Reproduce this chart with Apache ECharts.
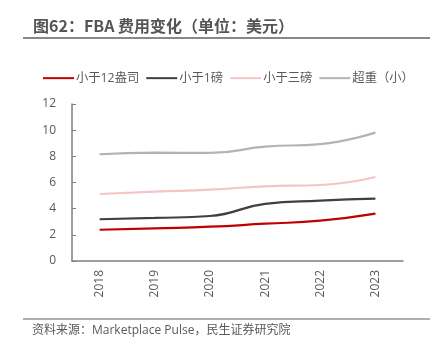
<!DOCTYPE html>
<html>
<head>
<meta charset="utf-8">
<script src="https://cdn.jsdelivr.net/npm/echarts@6/dist/echarts.min.js"></script>
<style>
  html, body { margin: 0; padding: 0; background: #fff; }
  #chart { width: 442px; height: 350px; }
</style>
</head>
<body>
<div id="chart"></div>
<script>
var years = ['2018', '2019', '2020', '2021', '2022', '2023'];
var seriesNames = ['小于12盎司', '小于1磅', '小于三磅', '超重（小）'];
var under12oz = [2.39, 2.5, 2.62, 2.85, 3.08, 3.62];
var under1lb = [3.19, 3.29, 3.44, 4.36, 4.61, 4.76];
var under3lb = [5.12, 5.3, 5.45, 5.71, 5.81, 6.42];
var oversizeSmall = [8.16, 8.28, 8.26, 8.74, 8.94, 9.81];
var yTicks = [0, 2, 4, 6, 8, 10, 12];

var colors = ['#C00000', '#404040', '#F2C6C6', '#B3B3B3'];
var font = "'Open Sans', 'Noto Sans CJK SC', sans-serif";
var textColor = '#595959';

var chart = echarts.init(document.getElementById('chart'));

function makeLine(name, data, color) {
    return {
        name: name,
        type: 'line',
        smooth: true,
        showSymbol: false,
        symbol: 'none',
        data: data,
        lineStyle: { color: color, width: 2.2 },
        itemStyle: { color: color }
    };
}

var option = {
    animation: false,
    textStyle: { fontFamily: font },
    graphic: [
        {
            type: 'text', left: 33, top: 18,
            style: {
                text: '图62：FBA 费用变化（单位：美元）',
                font: "bold 16px 'Noto Sans CJK SC', sans-serif",
                fill: '#555555'
            }
        },
        {
            type: 'line',
            shape: { x1: 23, y1: 38, x2: 430, y2: 38 },
            style: { stroke: '#606060', lineWidth: 1.5 }
        },
        {
            type: 'line',
            shape: { x1: 23, y1: 319, x2: 430, y2: 319 },
            style: { stroke: '#606060', lineWidth: 1 }
        },
        {
            type: 'text', left: 32, top: 325,
            style: {
                text: '资料来源：Marketplace Pulse，民生证券研究院',
                font: "12px 'Open Sans', 'Noto Sans CJK SC', sans-serif",
                fill: textColor
            }
        }
    ],
    legend: {
        top: 67,
        left: 38,
        icon: 'rect',
        itemWidth: 31,
        itemHeight: 2,
        itemGap: 7,
        textStyle: { fontSize: 12.3, color: textColor, fontFamily: font, padding: [0, 0, 0, -3] },
        data: seriesNames
    },
    grid: {
        left: 72,
        right: 39,
        top: 104,
        bottom: 89
    },
    xAxis: {
        type: 'category',
        boundaryGap: true,
        data: years,
        axisLine: { lineStyle: { color: '#7F7F7F', width: 1.5 } },
        axisTick: { inside: true, length: 4, lineStyle: { color: '#7F7F7F' } },
        axisLabel: { rotate: 90, color: textColor, fontSize: 12, margin: 9 }
    },
    yAxis: {
        type: 'value',
        min: 0,
        max: 12,
        interval: 2,
        splitLine: { show: false },
        axisLine: { show: true, lineStyle: { color: '#7F7F7F', width: 1.5 } },
        axisTick: { show: true, inside: true, length: 4, lineStyle: { color: '#7F7F7F' } },
        axisLabel: {
            color: textColor, fontSize: 12, margin: 16,
            formatter: function (v) { return yTicks.indexOf(v) >= 0 ? String(v) : ''; }
        }
    },
    series: [
        makeLine(seriesNames[0], under12oz, colors[0]),
        makeLine(seriesNames[1], under1lb, colors[1]),
        makeLine(seriesNames[2], under3lb, colors[2]),
        makeLine(seriesNames[3], oversizeSmall, colors[3])
    ]
};

chart.setOption(option);
</script>
</body>
</html>
